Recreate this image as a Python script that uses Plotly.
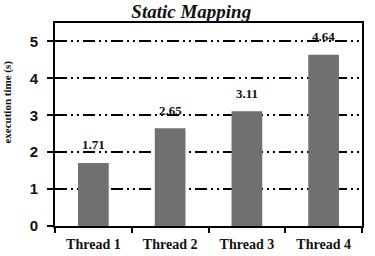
import plotly.graph_objects as go

categories = ["Thread 1", "Thread 2", "Thread 3", "Thread 4"]
values = [1.71, 2.65, 3.11, 4.64]
labels = ["1.71", "2.65", "3.11", "4.64"]
yticks = [0, 1, 2, 3, 4, 5]

fig = go.Figure()
fig.add_trace(go.Bar(x=categories, y=values, marker=dict(color="#707070", line=dict(width=0)),
                     width=0.4))
for c, v, t in zip(categories, values, labels):
    fig.add_annotation(x=c, y=v, text=t, showarrow=False, yshift=18,
                       font=dict(family="Liberation Serif", size=13, color="#111", weight="bold"))

fig.add_annotation(xref="paper", yref="paper", x=-0.155, y=0.61, xanchor="center", yanchor="middle",
                   text="execution time (s)", textangle=-90, showarrow=False,
                   font=dict(family="Liberation Serif", size=11, color="#111", weight="bold"))

fig.update_layout(
    width=375, height=256,
    margin=dict(l=55, r=13, t=23, b=30),
    paper_bgcolor="white", plot_bgcolor="white",
    showlegend=False,
    title=dict(text="<b><i>Static Mapping</i></b>", x=0.51, xanchor="center", y=0.955, yanchor="middle",
               automargin=False,
               font=dict(family="Liberation Serif", size=19, color="#111")),
    xaxis=dict(showline=True, linecolor="black", linewidth=2, mirror=True, automargin=False,
               ticks="outside", tickcolor="black", ticklen=5, tickwidth=2,
               tickson="boundaries", ticklabelstandoff=4,
               tickfont=dict(family="Liberation Serif", size=14, color="#111", weight="bold"),
               showgrid=False),
    yaxis=dict(range=[0, 5.5], tickvals=yticks, showline=True, linecolor="black", linewidth=2, mirror=True,
               automargin=False,
               ticks="outside", tickcolor="black", ticklen=6, tickwidth=2, ticklabelstandoff=6,
               tickfont=dict(family="Liberation Sans", size=15, color="#111", weight="bold"),
               showgrid=True, gridcolor="black", gridwidth=2,
               griddash="12px,4px,2px,4px,2px,4px",
               zeroline=False),
)
fig.write_html("out.html")
